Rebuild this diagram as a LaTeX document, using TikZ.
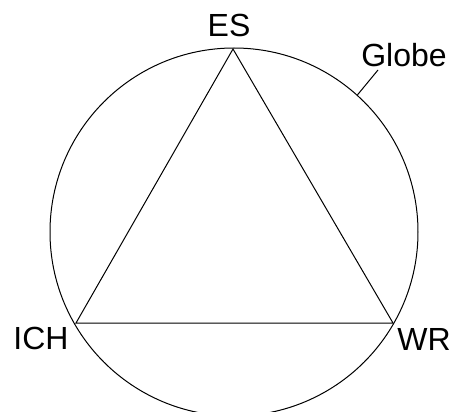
\documentclass[tikz,border=0pt]{standalone}
\usepackage{fontspec}
\setmainfont{Liberation Sans}
\begin{document}
\begin{tikzpicture}[x=1pt,y=-1pt,line width=1pt,
  lbl/.style={inner sep=0pt,anchor=base,font=\fontsize{32}{36}\selectfont}]
\useasboundingbox (0,0) rectangle (456,412);
\node[circle,draw,inner sep=0pt,minimum size=368pt] (globe) at (234,232) {};
\coordinate (es) at (233,49);
\coordinate (ich) at (76,323);
\coordinate (wr) at (393,323);
\draw (es)--(wr)--(ich)--cycle;
\node[lbl] (eslbl) at (229,37) {ES};
\node[lbl] (ichlbl) at (41,349) {ICH};
\node[lbl] (wrlbl) at (424,350) {WR};
\node[lbl] (globelbl) at (404,67) {Globe};
\draw (globe.48.6) -- (378,70);
\end{tikzpicture}
\end{document}
